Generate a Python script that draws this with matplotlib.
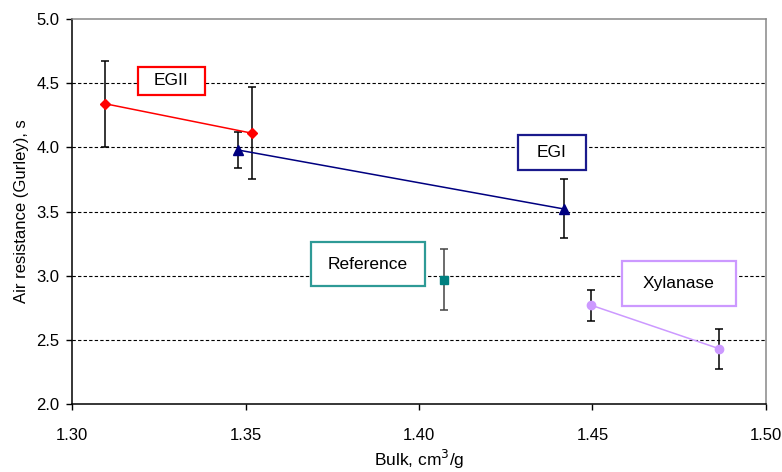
import matplotlib.pyplot as plt
from matplotlib.patches import Rectangle

plt.rcParams['font.family'] = ['Liberation Sans', 'DejaVu Sans']

# data
series = ['EGII', 'EGI', 'Reference', 'Xylanase']
bulk = {
    'EGII': [1.3095, 1.3519],
    'EGI': [1.3477, 1.4417],
    'Reference': [1.4072],
    'Xylanase': [1.4496, 1.4866],
}
gurley = {
    'EGII': [4.34, 4.11],
    'EGI': [3.98, 3.52],
    'Reference': [2.97],
    'Xylanase': [2.77, 2.43],
}
gurley_err = {
    'EGII': [0.335, 0.357],
    'EGI': [0.14, 0.23],
    'Reference': [0.235],
    'Xylanase': [0.12, 0.155],
}
# label boxes: (x0, x1, y0, y1) in data units
label_boxes = {
    'EGII': (1.3190, 1.3383, 4.409, 4.627),
    'EGI': (1.4284, 1.4480, 3.824, 4.096),
    'Reference': (1.3688, 1.4018, 2.919, 3.259),
    'Xylanase': (1.4584, 1.4913, 2.767, 3.111),
}

styles = {
    'EGII': dict(color='#FF0000', marker='D', ms=5),
    'EGI': dict(color='#000080', marker='^', ms=6.5),
    'Reference': dict(color='#008080', marker='s', ms=6),
    'Xylanase': dict(color='#CC99FF', marker='o', ms=6),
}
box_edge = {
    'EGII': '#FF0000',
    'EGI': '#1A1A8C',
    'Reference': '#2E9A96',
    'Xylanase': '#CC99FF',
}
err_color = {'EGII': 'black', 'EGI': 'black', 'Reference': '#444444', 'Xylanase': 'black'}

fig = plt.figure(figsize=(7.82, 4.72), dpi=100)
ax = fig.add_axes([0.0921, 0.1441, 0.8874, 0.8156])

for name in series:
    st = styles[name]
    ax.errorbar(bulk[name], gurley[name], yerr=gurley_err[name], fmt='none',
                ecolor=err_color[name], elinewidth=1.1, capsize=2.6, capthick=1.1, zorder=3)
    ax.plot(bulk[name], gurley[name], color=st['color'], lw=1.1, marker=st['marker'],
            ms=st['ms'], mec=st['color'], mfc=st['color'], zorder=4)

for name in series:
    x0, x1, y0, y1 = label_boxes[name]
    ax.add_patch(Rectangle((x0, y0), x1 - x0, y1 - y0, facecolor='white',
                           edgecolor=box_edge[name], lw=1.6, zorder=5))
    ax.text((x0 + x1) / 2, (y0 + y1) / 2, name, ha='center', va='center',
            fontsize=12.5, zorder=6)

ax.set_xlim(1.30, 1.50)
ax.set_ylim(2.0, 5.0)
ax.set_xticks([1.30, 1.35, 1.40, 1.45, 1.50])
ax.set_xticklabels(['1.30', '1.35', '1.40', '1.45', '1.50'])
ax.set_yticks([2.0, 2.5, 3.0, 3.5, 4.0, 4.5, 5.0])
ax.set_yticklabels(['2.0', '2.5', '3.0', '3.5', '4.0', '4.5', '5.0'])
for yv in [2.5, 3.0, 3.5, 4.0, 4.5]:
    ax.axhline(yv, color='black', lw=0.8, ls=(0, (3, 2)), zorder=1)

ax.tick_params(direction='out', length=4, width=1, labelsize=12)
ax.tick_params(axis='x', pad=13)
ax.tick_params(axis='y', pad=5)
for side in ['left', 'bottom']:
    ax.spines[side].set_color('black')
    ax.spines[side].set_linewidth(1.1)
for side in ['top', 'right']:
    ax.spines[side].set_color('#888888')
    ax.spines[side].set_linewidth(1.1)

ax.set_xlabel('Bulk, cm$^3$/g', fontsize=12.5)
ax.xaxis.set_label_coords(0.5, -0.143)
ax.xaxis.label.set_va('center')
ax.set_ylabel('Air resistance (Gurley), s', fontsize=12)
ax.yaxis.set_label_coords(-0.073, 0.5)
ax.yaxis.label.set_va('center')

fig.savefig('out.png', dpi=100)
